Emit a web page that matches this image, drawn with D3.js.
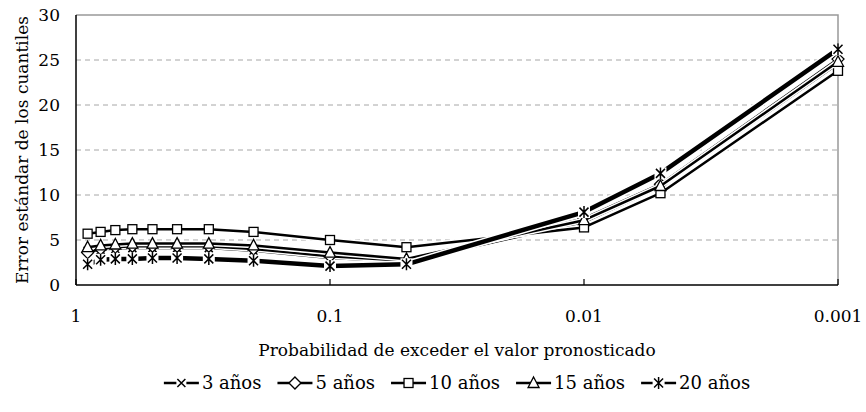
<!DOCTYPE html>
<html><head><meta charset="utf-8">
<script src="https://cdn.jsdelivr.net/npm/d3@7"></script>
<style>body{margin:0;background:#fff} text{font-family:"DejaVu Serif",serif;fill:#000}</style>
</head><body><svg id="c" width="866" height="412"></svg>
<script>
const probabilities = [0.9,0.8,0.7,0.6,0.5,0.4,0.3,0.2,0.1,0.05,0.01,0.005,0.001];
const seriesNames = ["3 años","5 años","10 años","15 años","20 años"];
const values3  = [3.8,3.9,4.0,4.1,4.1,4.1,4.1,3.8,3.0,2.6,7.0,10.9,24.6];
const values5  = [3.6,4.0,4.2,4.3,4.3,4.3,4.3,4.0,3.2,2.7,7.4,11.2,25.1];
const values10 = [5.7,5.9,6.1,6.2,6.2,6.2,6.2,5.9,5.0,4.2,6.4,10.2,23.8];
const values15 = [4.2,4.4,4.5,4.6,4.6,4.6,4.6,4.4,3.6,2.9,7.2,11.0,24.8];
const values20 = [2.3,2.8,2.9,2.9,3.0,3.0,2.9,2.7,2.1,2.3,8.1,12.4,26.2];
const seriesValues = [values3, values5, values10, values15, values20];
const markerTypes = ["x","diamond","square","triangle","asterisk"];
const yTicks = [0,5,10,15,20,25,30];
const xTicks = [1,0.1,0.01,0.001];
const xTickLabels = ["1","0.1","0.01","0.001"];
const xTitle = "Probabilidad de exceder el valor pronosticado";
const yTitle = "Error estándar de los cuantiles";

const W = 866, H = 412;
const m = {l:76, r:838, t:15, b:285};
const svg = d3.select("#c");
const x = d3.scaleLog().domain([1,0.001]).range([m.l, m.r]);
const y = d3.scaleLinear().domain([0,30]).range([m.b, m.t]);
const FS = 17;

// gridlines
svg.append("g").selectAll("line").data(yTicks.filter(d=>d>0 && d<30)).join("line")
  .attr("x1", m.l).attr("x2", m.r).attr("y1", d=>y(d)).attr("y2", d=>y(d))
  .attr("stroke","#a6a6a6").attr("stroke-width",1).attr("stroke-dasharray","5,4");
// frame top/right
svg.append("path").attr("d",`M${m.l},${y(30)}H${m.r}V${m.b}`).attr("fill","none").attr("stroke","#999").attr("stroke-width",1.5);
// axes
svg.append("line").attr("x1",m.l).attr("x2",m.l).attr("y1",m.t).attr("y2",m.b).attr("stroke","#000").attr("stroke-width",1.5);
svg.append("line").attr("x1",m.l).attr("x2",m.r).attr("y1",m.b).attr("y2",m.b).attr("stroke","#000").attr("stroke-width",1.5);
svg.append("g").selectAll("line").data(xTicks).join("line")
  .attr("x1",d=>x(d)).attr("x2",d=>x(d)).attr("y1",m.b).attr("y2",m.b-6).attr("stroke","#000").attr("stroke-width",1.2);

// y labels
svg.append("g").selectAll("text").data(yTicks).join("text")
  .attr("x", 60).attr("y", d=>y(d)+6).attr("text-anchor","end").attr("font-size",FS).text(d=>d);
// x labels
const xl = svg.append("g").selectAll("text").data(xTicks).join("text")
  .attr("y", 322).attr("text-anchor","middle").attr("font-size",FS).text((d,i)=>xTickLabels[i]);
xl.each(function(d){ const w=this.getComputedTextLength(); this.setAttribute("x", Math.max(w/2+2, Math.min(x(d), W - w/2 - 2))); });

// titles
svg.append("text").attr("x",(m.l+m.r)/2).attr("y",356).attr("text-anchor","middle").attr("font-size",FS).text(xTitle);
svg.append("text").attr("transform",`translate(28,${(m.t+m.b)/2}) rotate(-90)`).attr("text-anchor","middle").attr("font-size",FS).text(yTitle);

function drawMarker(g, type, cx, cy){
  const s = 5;
  if(type==="x"){
    g.append("rect").attr("x",cx-s).attr("y",cy-s).attr("width",2*s).attr("height",2*s).attr("fill","#fff");
    g.append("path").attr("d",`M${cx-4},${cy-4}L${cx+4},${cy+4}M${cx-4},${cy+4}L${cx+4},${cy-4}`).attr("stroke","#000").attr("stroke-width",1.5);
  } else if(type==="diamond"){
    g.append("path").attr("d",`M${cx},${cy-6}L${cx+6},${cy}L${cx},${cy+6}L${cx-6},${cy}Z`).attr("fill","#fff").attr("stroke","#000").attr("stroke-width",1.3);
  } else if(type==="square"){
    g.append("rect").attr("x",cx-4.5).attr("y",cy-4.5).attr("width",9).attr("height",9).attr("fill","#fff").attr("stroke","#000").attr("stroke-width",1.3);
  } else if(type==="triangle"){
    g.append("path").attr("d",`M${cx},${cy-6}L${cx+5.5},${cy+4.5}L${cx-5.5},${cy+4.5}Z`).attr("fill","#fff").attr("stroke","#000").attr("stroke-width",1.3);
  } else if(type==="asterisk"){
    g.append("rect").attr("x",cx-s-1).attr("y",cy-s-1).attr("width",2*s+2).attr("height",2*s+2).attr("fill","#fff");
    g.append("path").attr("d",`M${cx-4.5},${cy-4.5}L${cx+4.5},${cy+4.5}M${cx-4.5},${cy+4.5}L${cx+4.5},${cy-4.5}M${cx},${cy-6}V${cy+6}`).attr("stroke","#000").attr("stroke-width",1.5);
  }
}

const lineWidths = [2.5,2.5,2.5,2.5,4.5];
const line = d3.line().x((d,i)=>x(probabilities[i])).y(d=>y(d));
const plot = svg.append("g");
seriesValues.forEach((vals, si)=>{
  const g = plot.append("g");
  g.append("path").attr("d", line(vals)).attr("fill","none").attr("stroke","#fff").attr("stroke-width",lineWidths[si]+3).attr("stroke-linejoin","round");
  g.append("path").attr("d", line(vals)).attr("fill","none").attr("stroke","#000").attr("stroke-width",lineWidths[si]).attr("stroke-linejoin","round");
  vals.forEach((v,i)=>drawMarker(g, markerTypes[si], x(probabilities[i]), y(v)));
});

// legend (centered under plot)
const leg = svg.append("g");
let lx = 0; const ly = 383; const seg = 35; const LFS = 18;
seriesNames.forEach((name, si)=>{
  const g = leg.append("g");
  g.append("line").attr("x1",lx).attr("x2",lx+seg).attr("y1",ly).attr("y2",ly).attr("stroke","#000").attr("stroke-width",2.5);
  drawMarker(g, markerTypes[si], lx+seg/2, ly);
  const t = g.append("text").attr("x",lx+seg+3).attr("y",ly+6).attr("font-size",LFS).text(name);
  lx += seg + 3 + t.node().getComputedTextLength() + 16;
});
const legW = lx - 16;
leg.attr("transform",`translate(${(m.l+m.r)/2 - legW/2},0)`);
</script></body></html>
